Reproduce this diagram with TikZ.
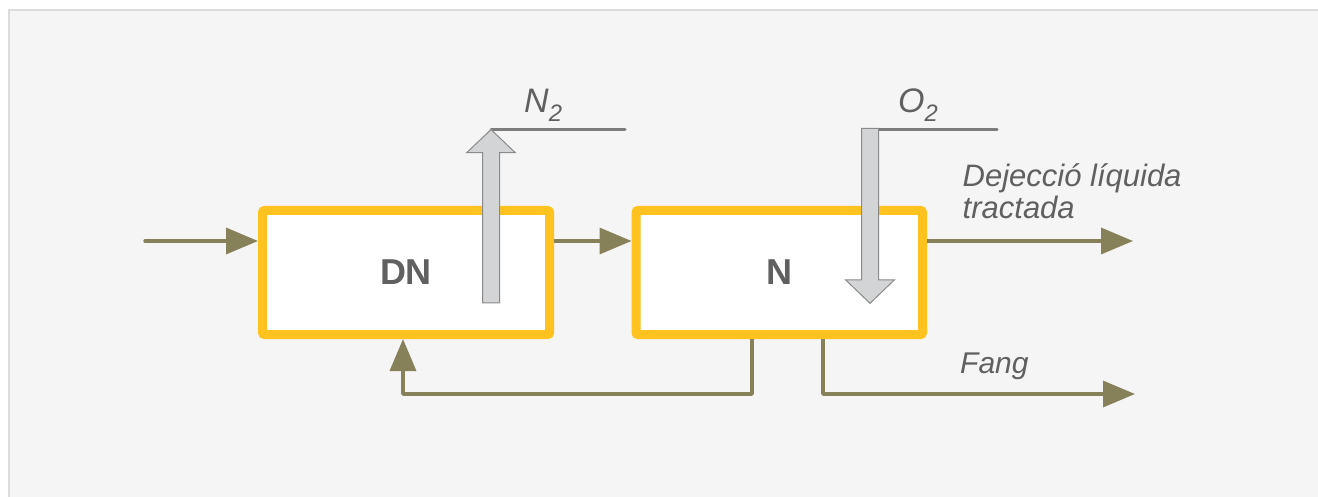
\documentclass[tikz,border=0pt]{standalone}
\usepackage{fontspec}
\setmainfont{Liberation Sans}
\usetikzlibrary{arrows.meta, positioning}

\definecolor{panelgray}{HTML}{F5F5F5}
\definecolor{paneledge}{HTML}{DCDCDC}
\definecolor{tankyellow}{HTML}{FFC21F}
\definecolor{flowolive}{HTML}{878159}
\definecolor{gasfill}{HTML}{D3D4D6}
\definecolor{gasedge}{HTML}{8A8A8A}
\definecolor{labelgray}{HTML}{606060}

\begin{document}
\begin{tikzpicture}[x=1pt, y=-1pt]
    \tikzstyle{tank} = [draw=tankyellow, fill=white, line width=9pt, rounded corners=2pt, minimum width=287pt, minimum height=124pt, text=labelgray, font=\fontsize{36}{40}\selectfont\bfseries];
    \tikzstyle{flow} = [draw=flowolive, line width=3.5pt, line join=round, -{Triangle[length=32pt, width=26pt]}];
    \tikzstyle{gas} = [draw=gasedge, fill=gasfill, line width=1pt];
    \tikzstyle{gasline} = [draw=gasedge!90!black, line width=3pt, line cap=round];
    \tikzstyle{tag} = [inner sep=0pt, text=labelgray, font=\fontsize{31}{32}\selectfont\itshape];

    \useasboundingbox (0,0) rectangle (1318,497);
    \clip (0,0) rectangle (1318,497);

    % background panel
    \fill[panelgray] (9,10) rectangle (1330,510);
    \draw[paneledge, line width=2pt] (9,510) -- (9,10) -- (1330,10);

    % tanks
    \node[tank] (DN) at (406,272.5) {DN};
    \node[tank, minimum width=286.5pt] (N) at (779.25,272.5) {N};

    \coordinate (inflow) at (145,241);
    \coordinate (outflow) at (1133,241);
    \coordinate (ret) at (752,394);
    \coordinate (retin) at (403,394);
    \coordinate (sludge) at (823,394);
    \coordinate (sludgeout) at (1135,394);

    % liquid flow
    \draw[flow, line cap=round] (inflow) -- (inflow -| DN.west);
    \draw[flow] (inflow -| DN.east) -- (inflow -| N.west);
    \draw[flow] (inflow -| N.east) -- (outflow);
    \draw[flow] (ret |- N.south) -- (ret) -- (retin) -- (retin |- DN.south);
    \draw[flow] (sludge |- N.south) -- (sludge) -- (sludgeout);

    % gases
    \coordinate (n2tip) at (491,129.5);
    \coordinate (o2top) at (870,129.5);
    \draw[gasline] (n2tip) -- (625,129.5);
    \draw[gasline] (o2top) -- (997,129.5);
    \draw[gas] (n2tip) -- ++(24.3,23.2) -- ++(-15.8,0) -- (499.5,303) -- (482.5,303) -- (482.5,152.7) -- ++(-15.8,0) -- cycle;
    \draw[gas] (878.5,128.3) -- (878.5,280) -- ++(15.8,0) -- (870,303.3) -- (845.7,280) -- ++(15.8,0) -- (861.5,128.3) -- cycle;

    % labels
    \node[tag, anchor=base west, font=\fontsize{34}{36}\selectfont\itshape] (n2) at (524,113) {N\textsubscript{2}};
    \node[tag, anchor=base west, font=\fontsize{34}{36}\selectfont\itshape] (o2) at (898,113) {O\textsubscript{2}};
    \node[tag, anchor=base west, align=left] (liquid) at (962.5,218.3) {Dejecció líquida\\tractada};
    \node[tag, anchor=base west, font=\fontsize{30}{32}\selectfont\itshape] (fang) at (960,373.3) {Fang};
\end{tikzpicture}
\end{document}
